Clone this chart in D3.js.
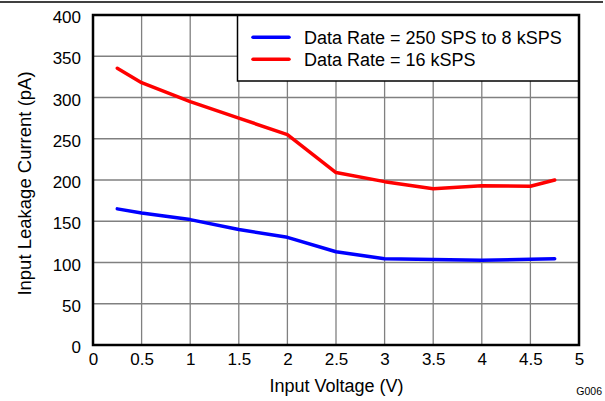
<!DOCTYPE html>
<html><head><meta charset="utf-8">
<script src="https://cdn.jsdelivr.net/npm/d3@7"></script>
<style>body{margin:0;background:#fff}svg{display:block}text{font-family:"Liberation Sans",Arial,sans-serif}</style>
</head><body>
<svg id="c" width="605" height="401"></svg>
<script>
const voltages = [0.25, 0.5, 1.0, 1.5, 2.0, 2.5, 3.0, 3.5, 4.0, 4.5, 4.75];
const lowRate = [165, 160, 152, 140, 130.5, 113, 104.6, 103.5, 102.6, 104, 104.5];
const highRate = [335.5, 318, 295, 275, 255, 209, 198, 189.5, 193, 192.5, 200];
const seriesNames = ["Data Rate = 250 SPS to 8 kSPS", "Data Rate = 16 kSPS"];
const seriesColors = ["#0000ff", "#ff0000"];
const xTicks = [0, 0.5, 1, 1.5, 2, 2.5, 3, 3.5, 4, 4.5, 5];
const yTicks = [0, 50, 100, 150, 200, 250, 300, 350, 400];

const svg = d3.select("#c");
const L = 93, R = 579, T = 15, B = 345;
const x = d3.scaleLinear().domain([0, 5]).range([L, R]);
const y = d3.scaleLinear().domain([0, 400]).range([B, T]);

svg.append("line").attr("x1", 0).attr("x2", 603).attr("y1", 2).attr("y2", 2)
  .attr("stroke", "#000").attr("stroke-width", 1.5);

// grid
const g = svg.append("g");
g.selectAll(".vx").data(xTicks.slice(1, -1)).enter().append("line")
  .attr("x1", d => x(d)).attr("x2", d => x(d)).attr("y1", T).attr("y2", B)
  .attr("stroke", "#808080").attr("stroke-width", 1.3);
g.selectAll(".hy").data(yTicks.slice(1, -1)).enter().append("line")
  .attr("x1", L).attr("x2", R).attr("y1", d => y(d)).attr("y2", d => y(d))
  .attr("stroke", "#808080").attr("stroke-width", 1.3);

// axes labels
const xa = d3.axisBottom(x).tickValues(xTicks).tickSize(0).tickPadding(8).tickFormat(d3.format("~g"));
const ya = d3.axisLeft(y).tickValues(yTicks).tickSize(0).tickPadding(12);
const gx = svg.append("g").attr("transform", `translate(0,${B})`).call(xa);
const gy = svg.append("g").attr("transform", `translate(${L},0)`).call(ya);
[gx, gy].forEach(a => {
  a.select(".domain").remove();
  a.selectAll("text").attr("font-size", 17).attr("fill", "#000").attr("font-family", "Liberation Sans, Arial, sans-serif");
});
gy.selectAll("text").attr("dy", "0.45em");

// lines
const line = d3.line().x((d, i) => x(voltages[i])).y(d => y(d));
[lowRate, highRate].forEach((s, k) => {
  svg.append("path").datum(s).attr("d", line).attr("fill", "none")
    .attr("stroke", seriesColors[k]).attr("stroke-width", 3.5)
    .attr("stroke-linejoin", "round").attr("stroke-linecap", "round");
});

// legend
svg.append("rect").attr("x", 237.5).attr("y", T).attr("width", R - 237.5).attr("height", 81 - T)
  .attr("fill", "#fff").attr("stroke", "#000").attr("stroke-width", 1.5);
seriesNames.forEach((n, k) => {
  const yy = 37.3 + k * 22;
  svg.append("line").attr("x1", 253).attr("x2", 289).attr("y1", yy).attr("y2", yy)
    .attr("stroke", seriesColors[k]).attr("stroke-width", 3.5).attr("stroke-linecap", "round");
  svg.append("text").attr("x", 304).attr("y", yy + 7).attr("font-size", 18).text(n);
});

// frame
svg.append("rect").attr("x", L).attr("y", T).attr("width", R - L).attr("height", B - T)
  .attr("fill", "none").attr("stroke", "#000").attr("stroke-width", 2.5);

// titles
svg.append("text").attr("x", 336.5).attr("y", 392).attr("text-anchor", "middle")
  .attr("font-size", 18).text("Input Voltage (V)");
svg.append("text").attr("transform", `translate(31,183.5) rotate(-90)`)
  .attr("text-anchor", "middle").attr("font-size", 18.5).text("Input Leakage Current (pA)");
svg.append("text").attr("x", 602).attr("y", 394.5).attr("text-anchor", "end")
  .attr("font-size", 10.5).text("G006");
</script>
</body></html>
